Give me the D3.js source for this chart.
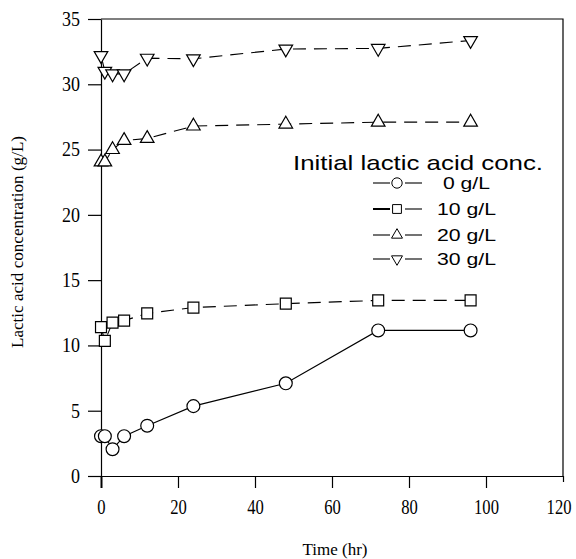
<!DOCTYPE html>
<html><head><meta charset="utf-8">
<script src="https://cdn.jsdelivr.net/npm/d3@7"></script>
<style>body{margin:0;background:#fff}</style>
</head><body><div id="c"></div>
<script>
const times = [0, 1, 3, 6, 12, 24, 48, 72, 96];
const conc0 = [3.05, 3.05, 2.05, 3.05, 3.85, 5.35, 7.1, 11.15, 11.15];
const conc10 = [11.4, 10.35, 11.75, 11.9, 12.45, 12.9, 13.2, 13.45, 13.45];
const conc20 = [24.05, 24.05, 25.0, 25.7, 25.85, 26.8, 26.95, 27.1, 27.1];
const conc30 = [32.2, 31.0, 30.8, 30.8, 32.0, 31.95, 32.7, 32.75, 33.35];
const seriesNames = ["0 g/L", "10 g/L", "20 g/L", "30 g/L"];
const xTicks = [0, 20, 40, 60, 80, 100, 120];
const yTicks = [0, 5, 10, 15, 20, 25, 30, 35];

const W = 576, H = 559;
const svg = d3.select("#c").append("svg").attr("width", W).attr("height", H);
const x = d3.scaleLinear().domain([0, 120]).range([101, 563]);
const y = d3.scaleLinear().domain([0, 35]).range([476, 19]);

const serif = "'Liberation Serif', 'Times New Roman', serif";
const sans = "'Liberation Sans', Arial, Helvetica, sans-serif";

// frame
svg.append("path").attr("d", `M${x(0)},${y(35)}H${x(120)}V${y(0)}`)
  .attr("fill", "none").attr("stroke", "#000").attr("stroke-width", 1.2);

const gx = svg.append("g").attr("transform", `translate(0,${y(0)})`)
  .call(d3.axisBottom(x).tickValues(xTicks).tickSize(12).tickSizeOuter(0).tickPadding(12));
gx.select(".domain").attr("stroke-width", 1.2);
gx.selectAll(".tick line").attr("stroke-width", 1.2);
gx.selectAll(".tick").filter(d => d === 0).select("line").attr("stroke-width", 2);
gx.selectAll(".tick").filter(d => d === 120).select("line").attr("y2", 6);
gx.selectAll("text").attr("font-family", serif).attr("font-size", 20).attr("fill", "#000")
  .each(function(d){ const n = String(d).length; d3.select(this).attr("textLength", n*8.3).attr("lengthAdjust","spacingAndGlyphs"); });
gx.selectAll(".tick").filter(d => d === 120).select("text").attr("text-anchor", "end").attr("x", 8);

const gy = svg.append("g").attr("transform", `translate(${x(0)},0)`)
  .call(d3.axisLeft(y).tickValues(yTicks).tickSize(13).tickSizeOuter(0).tickPadding(8));
gy.select(".domain").attr("stroke-width", 1.2);
gy.selectAll(".tick line").attr("stroke-width", 1.2);
gy.selectAll("text").attr("font-family", serif).attr("font-size", 20).attr("fill", "#000")
  .each(function(d){ const n = String(d).length; d3.select(this).attr("textLength", n*9).attr("lengthAdjust","spacingAndGlyphs"); });

// axis titles
svg.append("text").attr("x", 335).attr("y", 555).attr("text-anchor", "middle")
  .attr("font-family", serif).attr("font-size", 17).text("Time (hr)");
svg.append("text").attr("transform", `translate(23,242) rotate(-90)`).attr("text-anchor", "middle")
  .attr("font-family", serif).attr("font-size", 16).attr("textLength", 212).attr("lengthAdjust","spacingAndGlyphs")
  .text("Lactic acid concentration (g/L)");

const series = [
  {vals: conc0, sym: d3.symbolCircle, size: 130, dash: null, rot: 0},
  {vals: conc10, sym: d3.symbolSquare, size: 120, dash: "13,8", rot: 0},
  {vals: conc20, sym: d3.symbolTriangle, size: 80, dash: "13,8", rot: 0},
  {vals: conc30, sym: d3.symbolTriangle, size: 80, dash: "13,8", rot: 180}
];

const line = d3.line().x(d => x(d[0])).y(d => y(d[1]));
series.forEach(s => {
  const pts = times.map((t, i) => [t, s.vals[i]]);
  svg.append("path").datum(pts).attr("d", line).attr("fill", "none")
    .attr("stroke", "#000").attr("stroke-width", 1.1).attr("stroke-dasharray", s.dash);
});
series.forEach(s => {
  const pts = times.map((t, i) => [t, s.vals[i]]);
  svg.append("g").selectAll("path").data(pts).join("path")
    .attr("transform", d => `translate(${x(d[0])},${y(d[1])}) rotate(${s.rot})`)
    .attr("d", d3.symbol().type(s.sym).size(s.size))
    .attr("fill", "#fff").attr("stroke", "#000").attr("stroke-width", 1.2);
});

// legend
const lg = svg.append("g");
lg.append("text").attr("x", 293).attr("y", 170).attr("font-family", sans).attr("font-size", 21)
  .attr("textLength", 250).attr("lengthAdjust", "spacingAndGlyphs").text("Initial lactic acid conc.");
const rowY = [183, 209, 235, 259];
series.forEach((s, i) => {
  const yy = rowY[i];
  lg.append("line").attr("x1", 373).attr("x2", 390).attr("y1", yy).attr("y2", yy)
    .attr("stroke", "#000").attr("stroke-width", i === 1 ? 2 : 1.1);
  lg.append("line").attr("x1", 405).attr("x2", 422).attr("y1", yy).attr("y2", yy)
    .attr("stroke", "#000").attr("stroke-width", 1.1);
  lg.append("path").attr("transform", `translate(397,${yy}) rotate(${s.rot})`)
    .attr("d", d3.symbol().type(s.sym).size(s.size*0.65))
    .attr("fill", "#fff").attr("stroke", "#000").attr("stroke-width", 1);
  const isShort = seriesNames[i].length < 6;
  lg.append("text").attr("x", isShort ? 443 : 437).attr("y", yy + 6).attr("font-family", sans)
    .attr("font-size", 17).attr("textLength", isShort ? 47 : 59).attr("lengthAdjust", "spacingAndGlyphs")
    .text(seriesNames[i]);
});
</script></body></html>
